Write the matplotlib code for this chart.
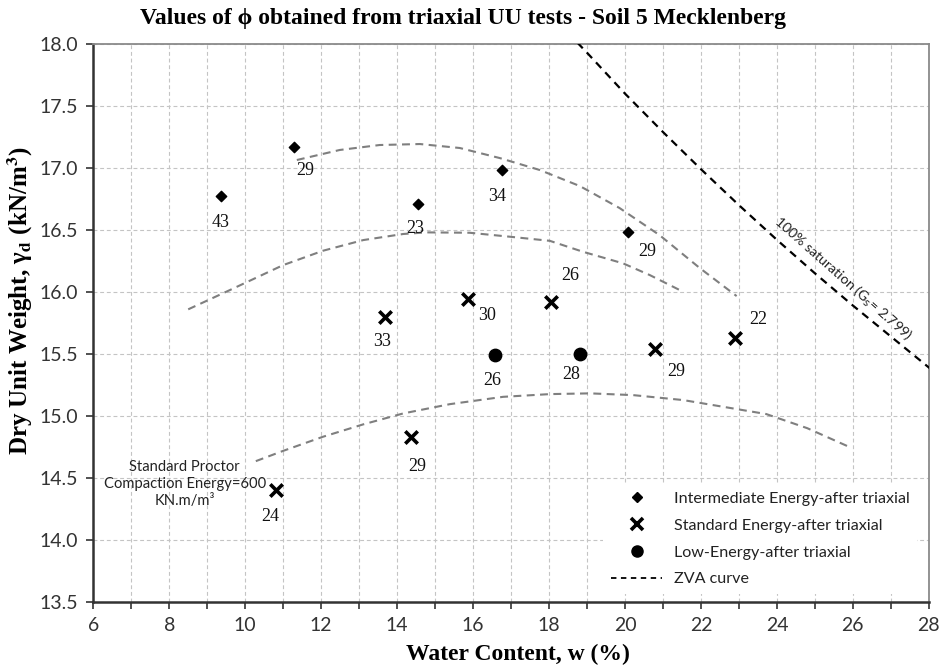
import matplotlib
matplotlib.use("Agg")
import matplotlib.pyplot as plt
from matplotlib.ticker import MultipleLocator, FormatStrFormatter
from matplotlib.lines import Line2D

# ---- data ----
# Intermediate compaction energy, after triaxial
inter_w = [9.36, 11.29, 14.54, 16.77, 20.07]
inter_gd = [16.77, 17.17, 16.71, 16.98, 16.48]
inter_phi = ["43", "29", "23", "34", "29"]

# Standard compaction energy, after triaxial
std_w = [10.81, 13.68, 14.36, 15.87, 18.04, 20.80, 22.89]
std_gd = [14.40, 15.80, 14.83, 15.94, 15.92, 15.54, 15.63]
std_phi = ["24", "33", "29", "30", "26", "29", "22"]

# Low compaction energy, after triaxial
low_w = [16.57, 18.81]
low_gd = [15.49, 15.50]
low_phi = ["26", "28"]

# Compaction curves (dashed grey)
curve_hi_w = [11.36, 12.49, 13.54, 14.60, 15.65, 16.70, 17.76, 18.81, 19.86, 20.91, 21.97, 22.94]
curve_hi_gd = [17.064, 17.145, 17.185, 17.193, 17.161, 17.080, 16.983, 16.854, 16.676, 16.458, 16.192, 15.966]
curve_mid_w = [8.50, 9.60, 11.00, 12.05, 13.11, 14.16, 14.77, 15.91, 16.97, 18.02, 18.89, 19.95, 20.65, 21.53]
curve_mid_gd = [15.859, 16.015, 16.216, 16.332, 16.418, 16.467, 16.480, 16.477, 16.445, 16.412, 16.324, 16.230, 16.136, 16.001]
curve_lo_w = [10.28, 11.00, 12.05, 13.11, 14.16, 15.39, 16.79, 18.02, 19.08, 20.21, 21.53, 22.58, 23.72, 24.80, 25.86]
curve_lo_gd = [14.634, 14.717, 14.831, 14.931, 15.019, 15.094, 15.153, 15.175, 15.181, 15.167, 15.127, 15.073, 15.014, 14.90, 14.755]

# Zero-air-voids curve (Gs = 2.799)
zav_w = [18.5, 19, 20, 21, 22, 23, 24, 25, 26, 27, 28, 28.2]
zav_gd = [18.09, 17.93, 17.60, 17.29, 16.99, 16.70, 16.42, 16.15, 15.89, 15.64, 15.39, 15.34]

legend_labels = ["Intermediate Energy-after triaxial", "Standard Energy-after triaxial",
                 "Low-Energy-after triaxial", "ZVA curve"]

# label offsets in points (dx, dy) for the phi values
inter_off = [(0, -19), (8, -17), (-2, -18), (-4, -19), (14, -14)]
std_off = [(-4, -19), (-2, -18), (5, -21), (14, -12), (14, 19), (15, -16), (17, 13)]
low_off = [(-2, -18), (-6, -15)]

SANS = ["Lato", "DejaVu Sans"]
SERIF = ["Liberation Serif", "DejaVu Serif"]

fig = plt.figure(figsize=(9.42, 6.71), dpi=100)
ax = fig.add_axes([0.099, 0.1033, 0.887, 0.8311])

ax.set_xlim(6, 28)
ax.set_ylim(13.5, 18.0)

# grid
ax.xaxis.set_major_locator(MultipleLocator(2))
ax.xaxis.set_minor_locator(MultipleLocator(1))
ax.yaxis.set_major_locator(MultipleLocator(0.5))
ax.yaxis.set_major_formatter(FormatStrFormatter("%.1f"))
ax.grid(True, which="both", axis="x", color="#c4c4c4", lw=0.8, ls=(0, (3.5, 2.5)))
ax.grid(True, which="major", axis="y", color="#c4c4c4", lw=0.8, ls=(0, (3.5, 2.5)))
ax.set_axisbelow(True)

# compaction curves
for cw, cg in [(curve_hi_w, curve_hi_gd), (curve_mid_w, curve_mid_gd), (curve_lo_w, curve_lo_gd)]:
    ax.plot(cw, cg, color="#7f7f7f", lw=1.5, ls=(0, (3.8, 2.6)), zorder=2)

# zero air voids
ax.plot(zav_w, zav_gd, color="black", lw=1.6, ls=(0, (3.5, 2.6)), zorder=3)
ax.text(25.74, 16.11, "100% saturation (G$_\\mathrm{s}$= 2.799)", rotation=-41.5,
        ha="center", va="center", fontsize=10.2, family=SANS, math_fontfamily="dejavusans",
        rotation_mode="anchor", color="#222222")

# data points
ax.scatter(inter_w, inter_gd, marker="D", s=28, color="black", zorder=5)
ax.scatter(std_w, std_gd, marker="x", s=80, color="black", linewidths=2.6, zorder=5)
ax.scatter(low_w, low_gd, marker="o", s=80, color="black", zorder=5)

for xs, ys, labs, offs in [(inter_w, inter_gd, inter_phi, inter_off),
                           (std_w, std_gd, std_phi, std_off),
                           (low_w, low_gd, low_phi, low_off)]:
    for x, y, t, o in zip(xs, ys, labs, offs):
        ax.annotate(t, (x, y), xytext=o, textcoords="offset points", ha="center", va="center",
                    fontsize=13, family=SERIF, color="#111111")

ax.text(8.41, 14.45, "Standard Proctor\nCompaction Energy=600\nKN.m/m³", ha="center", va="center",
        fontsize=10.6, family=SANS, linespacing=1.25, color="#222222")

# axes styling
for side in ["left", "bottom"]:
    ax.spines[side].set_color("#333333")
    ax.spines[side].set_linewidth(1.8)
for side in ["top", "right"]:
    ax.spines[side].set_color("#8a8a8a")
    ax.spines[side].set_linewidth(1.3)

ax.tick_params(axis="both", which="both", direction="out", color="#333333", width=1.2)
ax.tick_params(axis="both", which="major", length=5, labelsize=14, labelcolor="#333333", pad=6)
ax.tick_params(axis="x", which="minor", length=5)
for lab in ax.get_xticklabels() + ax.get_yticklabels():
    lab.set_family(SANS)

ax.set_xlabel("Water Content, w (%)", fontsize=17, fontweight="bold", family=SERIF)
ax.xaxis.set_label_coords(0.508, -0.075)
ax.set_ylabel("Dry Unit Weight, γ$_\\mathbf{d}$ (kN/m$^\\mathbf{3}$)", fontsize=18, fontweight="bold",
              family=SERIF, math_fontfamily="stix")
ax.yaxis.set_label_coords(-0.07, 0.54)
fig.text(0.492, 0.972, "Values of ϕ obtained from triaxial UU tests - Soil 5 Mecklenberg",
         ha="center", va="center", fontsize=17, fontweight="bold", family=SERIF)

# legend
handles = [
    Line2D([], [], marker="D", ls="none", color="black", markersize=5),
    Line2D([], [], marker="x", ls="none", color="black", markersize=8, mew=2.6),
    Line2D([], [], marker="o", ls="none", color="black", markersize=8),
    Line2D([], [], color="black", lw=1.3, ls=(0, (3, 2.5))),
]
leg = ax.legend(handles, legend_labels, loc="lower right", bbox_to_anchor=(0.995, 0.0),
                frameon=True, framealpha=1, edgecolor="none", facecolor="white",
                prop={"family": SANS, "size": 11.6}, handlelength=3.2, handletextpad=0.7,
                labelspacing=0.78, borderpad=0.45)
for t in leg.get_texts():
    t.set_color("#222222")

fig.savefig("out.png", dpi=100)
